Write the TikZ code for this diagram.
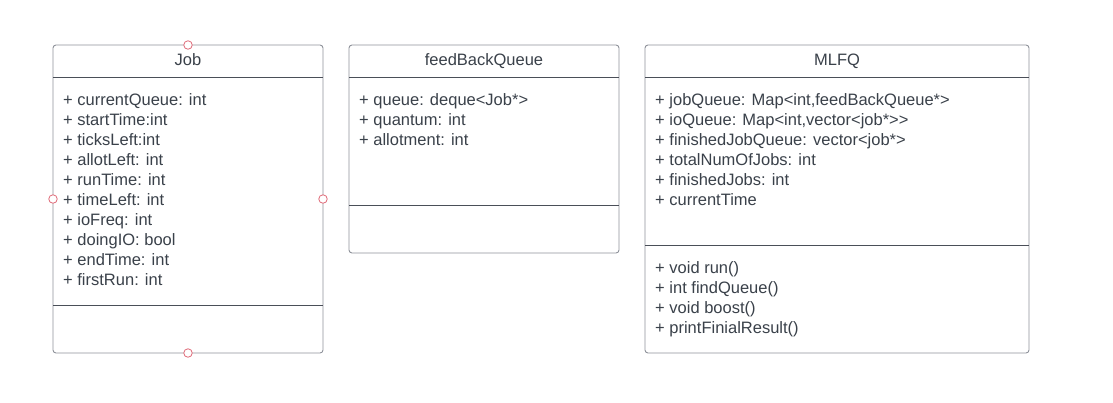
\documentclass[tikz,border=0pt]{standalone}
\usepackage{fontspec}
\setmainfont{Liberation Sans}
\definecolor{umltext}{HTML}{3A414A}
\definecolor{umlframe}{HTML}{8E929A}
\definecolor{umlline}{HTML}{4A4F58}
\definecolor{pinred}{HTML}{E06A78}
\tikzset{
  classbox/.style={draw=umlframe, line width=0.9pt, rounded corners=3pt, fill=white},
  divider/.style={draw=umlline, line width=0.9pt},
  title/.style={text=umltext, font=\fontsize{16.5}{19}\selectfont, inner sep=0pt, anchor=base},
  member/.style={text=umltext, font=\fontsize{16.5}{19}\selectfont, inner sep=0pt, anchor=base west},
  pin/.style={circle, draw=pinred, fill=white, line width=0.8pt, inner sep=0pt, minimum size=8.5pt}
}
\begin{document}
\begin{tikzpicture}[x=1pt, y=-1pt]
\useasboundingbox[fill=white] (0,0) rectangle (1113,402);

% Job
\path[classbox] (53,45) rectangle (323,353);
\path[divider] (53,77) -- (323,77);
\path[divider] (53,305) -- (323,305);
\node[title] (jobName) at (188,65.5) {Job};
\node[member] (job1) at (63,105.5) {+ currentQueue: int};
\node[member] (job2) at (63,125.5) {+ startTime:int};
\node[member] (job3) at (63,145.5) {+ ticksLeft:int};
\node[member] (job4) at (63,165.5) {+ allotLeft: int};
\node[member] (job5) at (63,185.5) {+ runTime: int};
\node[member] (job6) at (63,205.5) {+ timeLeft: int};
\node[member] (job7) at (63,225.5) {+ ioFreq: int};
\node[member] (job8) at (63,245.5) {+ doingIO: bool};
\node[member] (job9) at (63,265.5) {+ endTime: int};
\node[member] (job10) at (63,285.5) {+ firstRun: int};
\node[pin] (pinTop) at (188,45) {};
\node[pin] (pinBottom) at (188,353) {};
\node[pin] (pinLeft) at (53,199) {};
\node[pin] (pinRight) at (323,199) {};

% feedBackQueue
\path[classbox] (349,45) rectangle (619,253);
\path[divider] (349,77) -- (619,77);
\path[divider] (349,205) -- (619,205);
\node[title] (fbqName) at (484,65.5) {feedBackQueue};
\node[member] (fbq1) at (359,105.5) {+ queue: deque<Job*>};
\node[member] (fbq2) at (359,125.5) {+ quantum: int};
\node[member] (fbq3) at (359,145.5) {+ allotment: int};

% MLFQ
\path[classbox] (645,45) rectangle (1029,353);
\path[divider] (645,77) -- (1029,77);
\path[divider] (645,245) -- (1029,245);
\node[title] (mlfqName) at (837,65.5) {MLFQ};
\node[member] (mlfq1) at (655,105.5) {+ jobQueue: Map<int,feedBackQueue*>};
\node[member] (mlfq2) at (655,125.5) {+ ioQueue: Map<int,vector<job*>{}>};
\node[member] (mlfq3) at (655,145.5) {+ finishedJobQueue: vector<job*>};
\node[member] (mlfq4) at (655,165.5) {+ totalNumOfJobs: int};
\node[member] (mlfq5) at (655,185.5) {+ finishedJobs: int};
\node[member] (mlfq6) at (655,205.5) {+ currentTime};
\node[member] (op1) at (655,273.5) {+ void run()};
\node[member] (op2) at (655,293.5) {+ int findQueue()};
\node[member] (op3) at (655,313.5) {+ void boost()};
\node[member] (op4) at (655,333.5) {+ printFinialResult()};
\end{tikzpicture}
\end{document}
